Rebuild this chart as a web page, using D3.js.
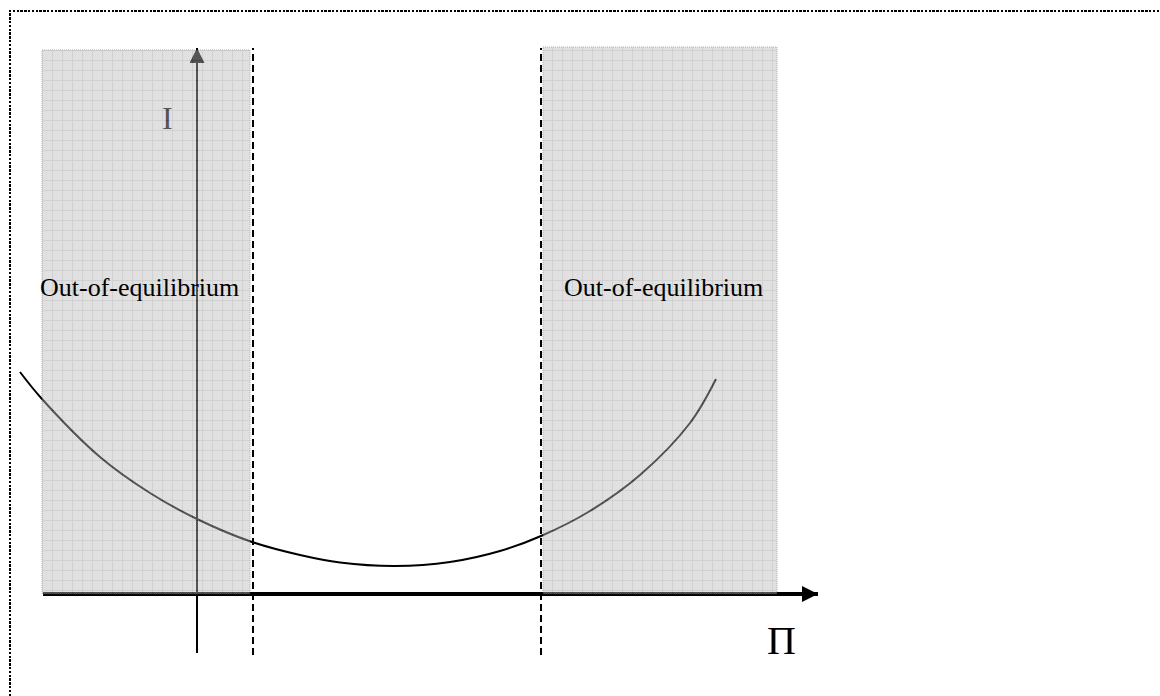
<!DOCTYPE html>
<html lang="en">

<head>
    <meta charset="UTF-8">
    <script src="https://d3js.org/d3.v7.min.js"></script>
    <title>Out-of-equilibrium</title>
    <style>
        html, body {
            margin: 0;
            padding: 0;
            background: #fff;
        }

        svg text {
            font-family: "Liberation Serif", "Times New Roman", serif;
        }
    </style>
</head>

<body>
    <svg id="chart" width="1160" height="696"></svg>

    <script>
        // curve I(Π) (1 unit = 50px, origin on the axes)
        const curveX = [-3.54, -3.10, -1.94, -0.94, 0, 1.10, 2.06, 2.86, 3.96, 5.06, 6.06, 6.88, 7.86, 8.86, 9.86, 10.38];
        const curveY = [4.44, 3.90, 2.74, 2.02, 1.50, 1.04, 0.78, 0.63, 0.56, 0.64, 0.86, 1.16, 1.66, 2.38, 3.42, 4.30];

        // shaded out-of-equilibrium zones [from, to, top]
        const zoneX0 = [-3.10, 6.92];
        const zoneX1 = [1.06, 11.60];
        const zoneTop = [10.88, 10.94];

        // dashed thresholds
        const thresholds = [1.12, 6.88];
        const thresholdRange = [-1.22, 10.92];

        // axes extents
        const xAxisRange = [-3.08, 12.42];
        const yAxisRange = [-1.18, 10.92];

        const zoneLabel = "Out-of-equilibrium";
        const zoneLabelX = [-3.14, 7.34];
        const zoneLabelY = 5.97;

        const svg = d3.select("#chart");

        const x = d3.scaleLinear().domain([0, 10]).range([197, 697]);
        const y = d3.scaleLinear().domain([0, 10]).range([594, 94]);

        const defs = svg.append("defs");

        // fine stipple
        const fine = defs.append("pattern")
            .attr("id", "fine")
            .attr("patternUnits", "userSpaceOnUse")
            .attr("width", 2).attr("height", 2);
        fine.append("rect").attr("width", 2).attr("height", 2).attr("fill", "#c4c4c4");
        fine.append("rect").attr("width", 1).attr("height", 1).attr("fill", "#b4b4b4");
        fine.append("rect").attr("x", 1).attr("y", 1).attr("width", 1).attr("height", 1).attr("fill", "#b4b4b4");

        // grid lines
        const grid = defs.append("pattern")
            .attr("id", "grid")
            .attr("patternUnits", "userSpaceOnUse")
            .attr("width", 10).attr("height", 10)
            .attr("x", 2).attr("y", 0);
        grid.append("path")
            .attr("d", "M0 0.5H10M0.5 0V10")
            .attr("stroke", "#9a9a9a")
            .attr("stroke-width", 1)
            .attr("fill", "none");

        const arrow = (id, w, h) => {
            defs.append("marker")
                .attr("id", id)
                .attr("viewBox", `0 0 ${w} ${h}`)
                .attr("refX", w).attr("refY", h / 2)
                .attr("markerWidth", w).attr("markerHeight", h)
                .attr("markerUnits", "userSpaceOnUse")
                .attr("orient", "auto")
                .append("path")
                .attr("d", `M0,0L${w},${h / 2}L0,${h}Z`)
                .attr("fill", "#000");
        };
        arrow("arrowY", 15, 15);
        arrow("arrowX", 16, 16);

        // dotted frame
        svg.append("path")
            .attr("d", "M10,696V11H1160")
            .attr("fill", "none")
            .attr("stroke", "#000")
            .attr("stroke-width", 2)
            .attr("stroke-dasharray", "2.4,1.4")
            .attr("shape-rendering", "crispEdges");

        // axes
        svg.append("line")
            .attr("x1", x(0)).attr("x2", x(0))
            .attr("y1", y(yAxisRange[0])).attr("y2", y(yAxisRange[1]))
            .attr("stroke", "#000")
            .attr("stroke-width", 2)
            .attr("marker-end", "url(#arrowY)");

        svg.append("line")
            .attr("x1", x(xAxisRange[0])).attr("x2", x(xAxisRange[1]))
            .attr("y1", y(0)).attr("y2", y(0))
            .attr("stroke", "#000")
            .attr("stroke-width", 4)
            .attr("marker-end", "url(#arrowX)");

        // curve
        const pts = curveX.map((d, i) => [d, curveY[i]]);
        svg.append("path")
            .datum(pts)
            .attr("fill", "none")
            .attr("stroke", "#000")
            .attr("stroke-width", 2)
            .attr("d", d3.line()
                .x(d => x(d[0]))
                .y(d => y(d[1]))
                .curve(d3.curveCatmullRom.alpha(0.5)));

        svg.append("text")
            .attr("x", x(-0.7))
            .attr("y", y(9.3))
            .attr("font-size", 32)
            .text("I");

        // shaded zones, laid over axes and curve
        const zones = svg.append("g").attr("opacity", 0.45);
        zoneX0.forEach((d, i) => {
            const rx = x(d), rw = x(zoneX1[i]) - x(d);
            const ry = y(zoneTop[i]), rh = y(0) - y(zoneTop[i]);
            zones.append("rect")
                .attr("x", rx).attr("y", ry).attr("width", rw).attr("height", rh)
                .attr("fill", "url(#fine)");
            zones.append("rect")
                .attr("x", rx).attr("y", ry).attr("width", rw).attr("height", rh)
                .attr("fill", "url(#grid)")
                .attr("stroke", "#555")
                .attr("stroke-width", 1)
                .attr("stroke-dasharray", "1,1");
        });

        // dashed thresholds
        svg.selectAll("line.threshold")
            .data(thresholds)
            .join("line")
            .attr("class", "threshold")
            .attr("x1", d => x(d)).attr("x2", d => x(d))
            .attr("y1", y(thresholdRange[0])).attr("y2", y(thresholdRange[1]))
            .attr("stroke", "#000")
            .attr("stroke-width", 2)
            .attr("stroke-dasharray", "7,4");

        svg.selectAll("text.zone")
            .data(zoneLabelX)
            .join("text")
            .attr("class", "zone")
            .attr("x", d => x(d))
            .attr("y", y(zoneLabelY))
            .attr("font-size", 26)
            .attr("fill", "#000")
            .text(zoneLabel);

        svg.append("text")
            .attr("x", x(11.4))
            .attr("y", y(-1.2))
            .attr("font-size", 40)
            .text("Π");
    </script>
</body>

</html>
